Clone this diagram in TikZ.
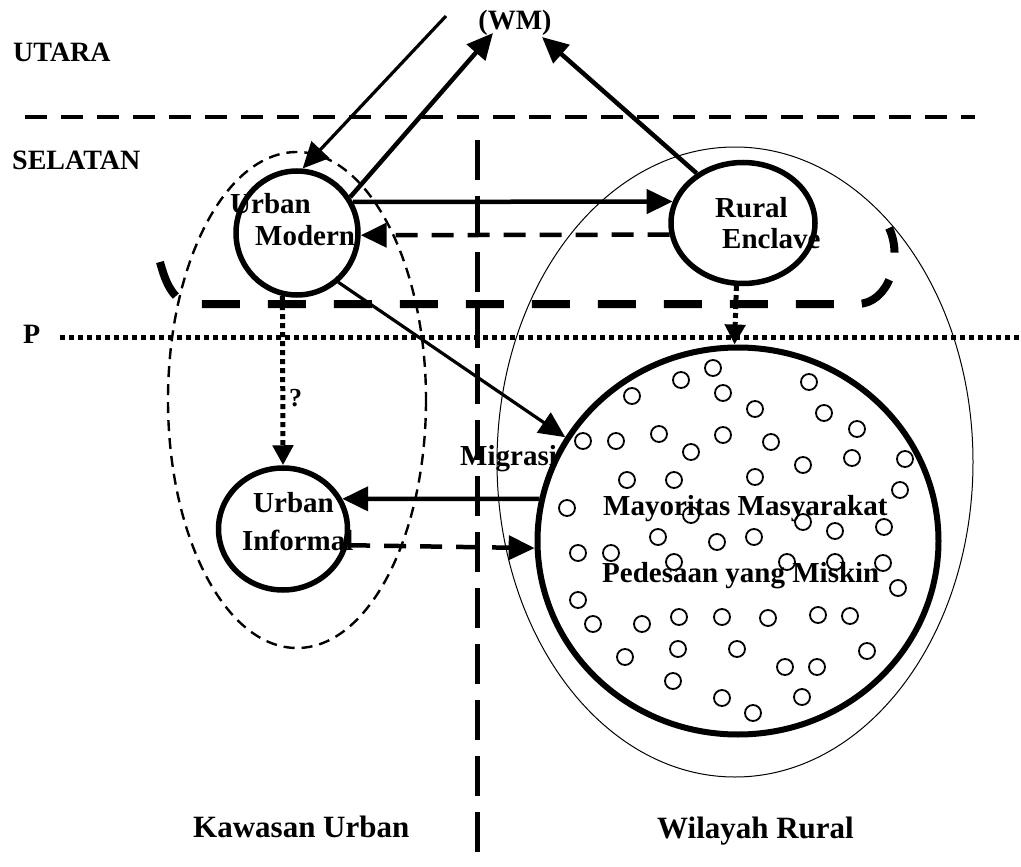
\documentclass[tikz,border=0pt]{standalone}
\usepackage{fontspec}
\setmainfont{Liberation Serif}
\usetikzlibrary{arrows.meta,shapes.geometric}

\begin{document}
\begin{tikzpicture}[x=1pt,y=-1pt,
  lbl/.style={font=\fontsize{29}{31}\selectfont\bfseries, inner sep=0pt, anchor=base west},
  hdr/.style={lbl, font=\fontsize{28}{30}\selectfont\bfseries},
  foot/.style={lbl, font=\fontsize{31}{33}\selectfont\bfseries},
  ring/.style={draw, ellipse, line width=5.5pt, inner sep=0pt},
  bigtip/.style={-{Triangle[length=26pt,width=24pt]}},
  arr/.style={line width=4.5pt, bigtip},
  thinarr/.style={line width=3.2pt, bigtip},
  dasharr/.style={line width=4.5pt, dash pattern=on 22pt off 14pt, bigtip},
  dotarr/.style={line width=5pt, dash pattern=on 5pt off 4pt, -{Triangle[length=20pt,width=20pt]}},
  pip/.style={line width=1.8pt}
]
\useasboundingbox (0,0) rectangle (1021,867);
\fill[white] (0,0) rectangle (1021,867);

% region boundaries
\draw[line width=4.5pt, dash pattern=on 22pt off 14pt] (25,117) -- (975,117);
\draw[line width=5pt, dash pattern=on 40pt off 16pt] (477,140) -- (477,867);
\draw[line width=5pt, dash pattern=on 5pt off 4pt] (60,337) -- (1021,337);

% outer regions
\draw[line width=1pt] (735,462) ellipse [x radius=238, y radius=315];
\draw[line width=2.4pt, dash pattern=on 11pt off 7pt] (297,400) ellipse [x radius=129, y radius=248];

% enclave boundary
\draw[line width=8pt, dash pattern=on 38pt off 28pt]
  (160,262) to[out=-75,in=180] (195,304) -- (857,304) to[out=0,in=-64] (889,228);

% circles
\node[ring, minimum width=122pt, minimum height=124pt] (um) at (297,233) {};
\node[ring, minimum width=144pt, minimum height=121pt] (re) at (743,223) {};
\node[ring, minimum width=129pt, minimum height=122pt] (ui) at (283,529) {};
\node[ring, line width=6pt, minimum width=401pt, minimum height=387pt] (big) at (738,541) {};

% villages
\foreach \px/\py in {
  713/368, 681/380, 632/396, 723/393, 755/409, 583/441, 616/441, 659/434,
  723/435, 691/452, 771/442, 627/480, 674/480, 755/477, 567/508, 691/515,
  658/537, 717/542, 754/537, 578/553, 611/553, 674/562, 578/600, 593/624,
  642/624, 679/617, 722/617, 768/618, 625/657, 678/649, 737/649, 673/681,
  722/698, 753/713, 809/382, 824/413, 857/429, 803/465, 852/458, 905/459,
  900/490, 803/522, 835/531, 884/527, 787/562, 835/562, 883/563, 898/588,
  818/615, 850/616, 867/651, 785/667, 817/667, 802/697}
  \draw[pip] (\px,\py) circle[radius=8pt];

% external world
\node[hdr, anchor=base] (wm) at (515,30) {(WM)};
\coordinate (wmin) at (446,16);
\coordinate (wmL) at (493,33);
\coordinate (wmR) at (542,37);

% flows
\draw[thinarr] (wmin) -- (um.85);
\draw[arr] (um.34) -- (wmL);
\draw[arr] (re.133) -- (wmR);
\draw[arr] (um.29) -- (re.163.5);
\draw[dasharr] (re.189.3) -- (um.-2);
\draw[thinarr] (um.-50) -- (big.149);
\draw[arr] (big.168.2) -- (ui.27);
\draw[dasharr] (ui.-14.4) -- (big.-178.8);
\draw[dotarr] (um.-103) -- (ui.north);
\draw[dotarr] (re.-96) -- (big.91);

% labels
\node[hdr] (utara) at (13,62) {UTARA};
\node[hdr] (selatan) at (12,169) {SELATAN};
\node[hdr] (p) at (23,343) {P};
\node[lbl] (umt1) at (230,213) {Urban};
\node[lbl] (umt2) at (255,245) {Modern};
\node[lbl] (ret1) at (715,217) {Rural};
\node[lbl] (ret2) at (722,248) {Enclave};
\node[lbl] (uit1) at (253,512) {Urban};
\node[lbl] (uit2) at (242,550) {Informal};
\node[lbl, font=\fontsize{26}{28}\selectfont\bfseries] (q) at (289,406) {?};
\node[lbl] (mig) at (460,465) {Migrasi};
\node[lbl] (maj1) at (603,515) {Mayoritas Masyarakat};
\node[lbl] (maj2) at (602,582) {Pedesaan yang Miskin};
\node[foot] (ku) at (193,837) {Kawasan Urban};
\node[foot] (wr) at (657,838) {Wilayah Rural};
\end{tikzpicture}
\end{document}
